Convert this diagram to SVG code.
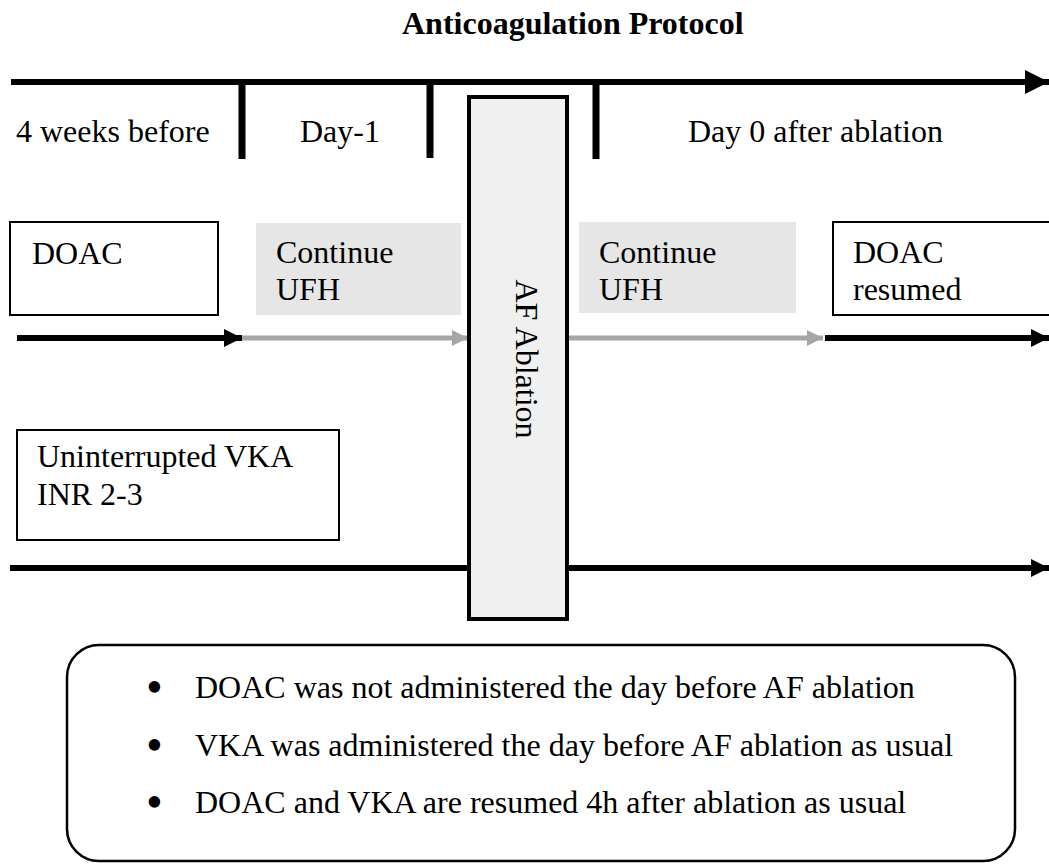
<svg xmlns="http://www.w3.org/2000/svg" width="1049" height="865" viewBox="0 0 1049 865">
<defs>
<style>
text{font-family:"Liberation Serif","Times New Roman",serif;font-size:32px;fill:#000}
.title{font-weight:bold}
.dot{font-size:48px}
.blk{stroke:#000;stroke-width:6;fill:none}
.gry{stroke:#a6a6a6;stroke-width:5;fill:none}
.tick{stroke:#000;stroke-width:7}
.wbox{fill:#fff;stroke:#000;stroke-width:2}
.gbox{fill:#e6e6e6;stroke:none}
</style>
<marker id="ah" viewBox="0 0 18 18" refX="18" refY="9" markerUnits="userSpaceOnUse" markerWidth="18" markerHeight="18" orient="auto"><path d="M0,0 L18,9 L0,18 Z" fill="#000"/></marker>
<marker id="ahb" viewBox="0 0 24 24" refX="24" refY="12" markerUnits="userSpaceOnUse" markerWidth="24" markerHeight="24" orient="auto"><path d="M0,0 L24,12 L0,24 Z" fill="#000"/></marker>
<marker id="ahg" viewBox="0 0 16 16" refX="16" refY="8" markerUnits="userSpaceOnUse" markerWidth="16" markerHeight="16" orient="auto"><path d="M0,0 L16,8 L0,16 Z" fill="#a6a6a6"/></marker>
</defs>
<rect width="1049" height="865" fill="#fff"/>
<text class="title" x="402" y="34">Anticoagulation Protocol</text>

<g id="connectors">
<line class="blk" x1="11" y1="82" x2="1049" y2="82" stroke-width="7" marker-end="url(#ahb)"/>
<line class="tick" x1="242" y1="82" x2="242" y2="159"/>
<line class="tick" x1="430" y1="82" x2="430" y2="158"/>
<line class="tick" x1="596" y1="82" x2="596" y2="159"/>
<line class="blk" x1="17" y1="338" x2="242" y2="338" marker-end="url(#ah)"/>
<line class="gry" x1="242" y1="338" x2="468" y2="338" marker-end="url(#ahg)"/>
<line class="gry" x1="569" y1="338" x2="823" y2="338" marker-end="url(#ahg)"/>
<line class="blk" x1="825" y1="338" x2="1049" y2="338" marker-end="url(#ah)"/>
<line class="blk" x1="10" y1="568" x2="468" y2="568"/>
<line class="blk" x1="569" y1="568" x2="1049" y2="568" marker-end="url(#ah)"/>
</g>

<g id="label-4weeks"><text x="16" y="142">4 weeks before</text></g>
<g id="label-day-1"><text x="300" y="142">Day-1</text></g>
<g id="label-day0"><text x="688" y="142">Day 0 after ablation</text></g>

<g id="ablation">
<rect x="469" y="97" width="98" height="522" fill="#f0f0f0" stroke="#000" stroke-width="4"/>
<text transform="translate(516,359) rotate(90)" text-anchor="middle">AF Ablation</text>
</g>

<g id="doac"><rect class="wbox" x="10" y="222" width="208" height="93"/><text x="32" y="264">DOAC</text></g>
<g id="ufh-pre"><rect class="gbox" x="256" y="223" width="205" height="92"/><text x="276" y="263">Continue</text><text x="276" y="300">UFH</text></g>
<g id="ufh-post"><rect class="gbox" x="579" y="222" width="217" height="91"/><text x="599" y="263">Continue</text><text x="599" y="300">UFH</text></g>
<g id="doac-resumed"><rect class="wbox" x="833" y="222" width="230" height="93"/><text x="853" y="263">DOAC</text><text x="853" y="300">resumed</text></g>
<g id="vka"><rect class="wbox" x="17" y="430" width="322" height="110"/><text x="37" y="467">Uninterrupted VKA</text><text x="37" y="505">INR 2-3</text></g>

<g id="notes">
<rect x="67" y="645" width="948" height="216" rx="32" ry="32" fill="#fff" stroke="#000" stroke-width="2.5"/>
<text class="dot" x="146" y="703">•</text><text x="195" y="698">DOAC was not administered the day before AF ablation</text>
<text class="dot" x="146" y="761">•</text><text x="195" y="756">VKA was administered the day before AF ablation as usual</text>
<text class="dot" x="146" y="818">•</text><text x="195" y="813">DOAC and VKA are resumed 4h after ablation as usual</text>
</g>
</svg>
